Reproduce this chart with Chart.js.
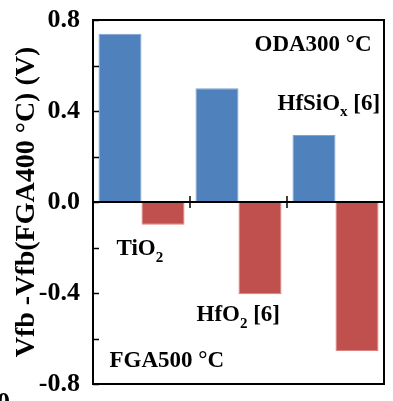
<!DOCTYPE html>
<html>
<head>
<meta charset="utf-8">
<script src="https://cdn.jsdelivr.net/npm/chart.js@4/dist/chart.umd.min.js"></script>
<style>
  html, body { margin: 0; padding: 0; background: #fff; }
  canvas { display: block; }
</style>
</head>
<body>
<canvas id="myChart" width="393" height="401"></canvas>
<script>
// Données
const categories = ['TiO2', 'HfO2 [6]', 'HfSiOx [6]'];
const seriesNames = ['ODA300 °C', 'FGA500 °C'];
const oda300 = [0.74, 0.50, 0.295];
const fga500 = [-0.10, -0.405, -0.655];
const yTicks = [-0.8, -0.4, 0.0, 0.4, 0.8];

const SERIF = '"Liberation Serif", "Times New Roman", serif';

// Texte avec indice (O2, Ox)
function drawRich(ctx, text, x, y, size) {
    const parts = [];
    const m = text.match(/(TiO|HfO|HfSiO)(2|x)/);
    if (m) {
        const i = text.indexOf(m[0]) + m[1].length;
        parts.push({ t: text.slice(0, i) });
        parts.push({ t: m[2], sub: true });
        parts.push({ t: text.slice(i + 1) });
    } else {
        parts.push({ t: text });
    }
    ctx.textBaseline = 'alphabetic';
    ctx.textAlign = 'left';
    let cx = x;
    parts.forEach(p => {
        if (p.sub) {
            ctx.font = 'bold ' + Math.round(size * 0.66) + 'px ' + SERIF;
            ctx.fillText(p.t, cx, y + size * 0.28);
        } else {
            ctx.font = 'bold ' + size + 'px ' + SERIF;
            ctx.fillText(p.t, cx, y);
        }
        cx += ctx.measureText(p.t).width;
    });
}

// Cadre, graduations intérieures et annotations
const framePlugin = {
    id: 'framePlugin',
    afterDraw(chart) {
        const ctx = chart.ctx;
        const area = chart.chartArea;
        const ys = chart.scales.y;
        const xs = chart.scales.x;
        ctx.save();
        ctx.strokeStyle = '#000';
        ctx.lineWidth = 2;
        ctx.strokeRect(area.left, area.top, area.right - area.left, area.bottom - area.top);

        // petites graduations tous les 0.2
        ctx.lineWidth = 1.5;
        for (let k = -4; k <= 4; k++) {
            const py = Math.round(ys.getPixelForValue(k * 0.2)) + 0.5;
            ctx.beginPath();
            ctx.moveTo(area.left, py);
            ctx.lineTo(area.left + 6, py);
            ctx.stroke();
        }

        // séparateurs de catégories sur la ligne zéro
        const y0 = ys.getPixelForValue(0);
        for (let i = 0; i < categories.length - 1; i++) {
            const px = (xs.getPixelForValue(i) + xs.getPixelForValue(i + 1)) / 2;
            ctx.beginPath();
            ctx.moveTo(px, y0 - 6);
            ctx.lineTo(px, y0 + 6);
            ctx.stroke();
        }

        // annotations
        ctx.fillStyle = '#000';
        const c0 = xs.getPixelForValue(0);
        const c1 = xs.getPixelForValue(1);
        const c2 = xs.getPixelForValue(2);
        drawRich(ctx, seriesNames[0], c2 - 81, ys.getPixelForValue(0.665), 23);
        drawRich(ctx, categories[2], c2 - 58, ys.getPixelForValue(0.405), 23);
        drawRich(ctx, categories[0], c0 - 25, ys.getPixelForValue(-0.235), 23);
        drawRich(ctx, categories[1], c1 - 42, ys.getPixelForValue(-0.525), 23);
        drawRich(ctx, seriesNames[1], c0 - 32, ys.getPixelForValue(-0.725), 23);

        // caractère coupé en bas à gauche
        ctx.font = 'bold 26px ' + SERIF;
        ctx.textBaseline = 'top';
        ctx.fillText('0', -3, 390);
        ctx.restore();
    }
};

const ctx = document.getElementById('myChart').getContext('2d');
const myChart = new Chart(ctx, {
    type: 'bar',
    data: {
        labels: categories,
        datasets: [{
            label: seriesNames[0],
            data: oda300,
            backgroundColor: '#4F81BD',
            borderColor: '#7FA3D0',
            borderWidth: 1,
            borderSkipped: 'bottom'
        }, {
            label: seriesNames[1],
            data: fga500,
            backgroundColor: '#C0504D',
            borderColor: '#D9827F',
            borderWidth: 1,
            borderSkipped: 'bottom'
        }]
    },
    options: {
        responsive: false,
        animation: false,
        devicePixelRatio: 1,
        layout: { padding: { top: 20, right: 9, bottom: 17, left: 0 } },
        datasets: {
            bar: { barPercentage: 1.0, categoryPercentage: 0.887 }
        },
        plugins: {
            legend: { display: false },
            tooltip: { enabled: false }
        },
        scales: {
            x: { display: false },
            y: {
                min: -0.8,
                max: 0.8,
                afterFit: s => { s.width = 93; s.paddingTop = 0; s.paddingBottom = 0; },
                afterBuildTicks: s => { s.ticks = yTicks.map(v => ({ value: v })); },
                ticks: {
                    padding: 13,
                    color: '#000',
                    font: { family: SERIF, size: 26, weight: 'bold' },
                    callback: v => (Math.round(v * 10) / 10).toFixed(1)
                },
                grid: {
                    drawTicks: false,
                    lineWidth: 2,
                    color: c => (Math.abs(c.tick.value) < 1e-9 ? '#000' : 'rgba(0,0,0,0)')
                },
                border: { display: false },
                title: {
                    display: true,
                    text: 'Vfb -Vfb(FGA400 °C) (V)',
                    color: '#000',
                    font: { family: SERIF, size: 28, weight: 'bold' },
                    padding: { top: 10, bottom: 0 }
                }
            }
        }
    },
    plugins: [framePlugin]
});
</script>
</body>
</html>
